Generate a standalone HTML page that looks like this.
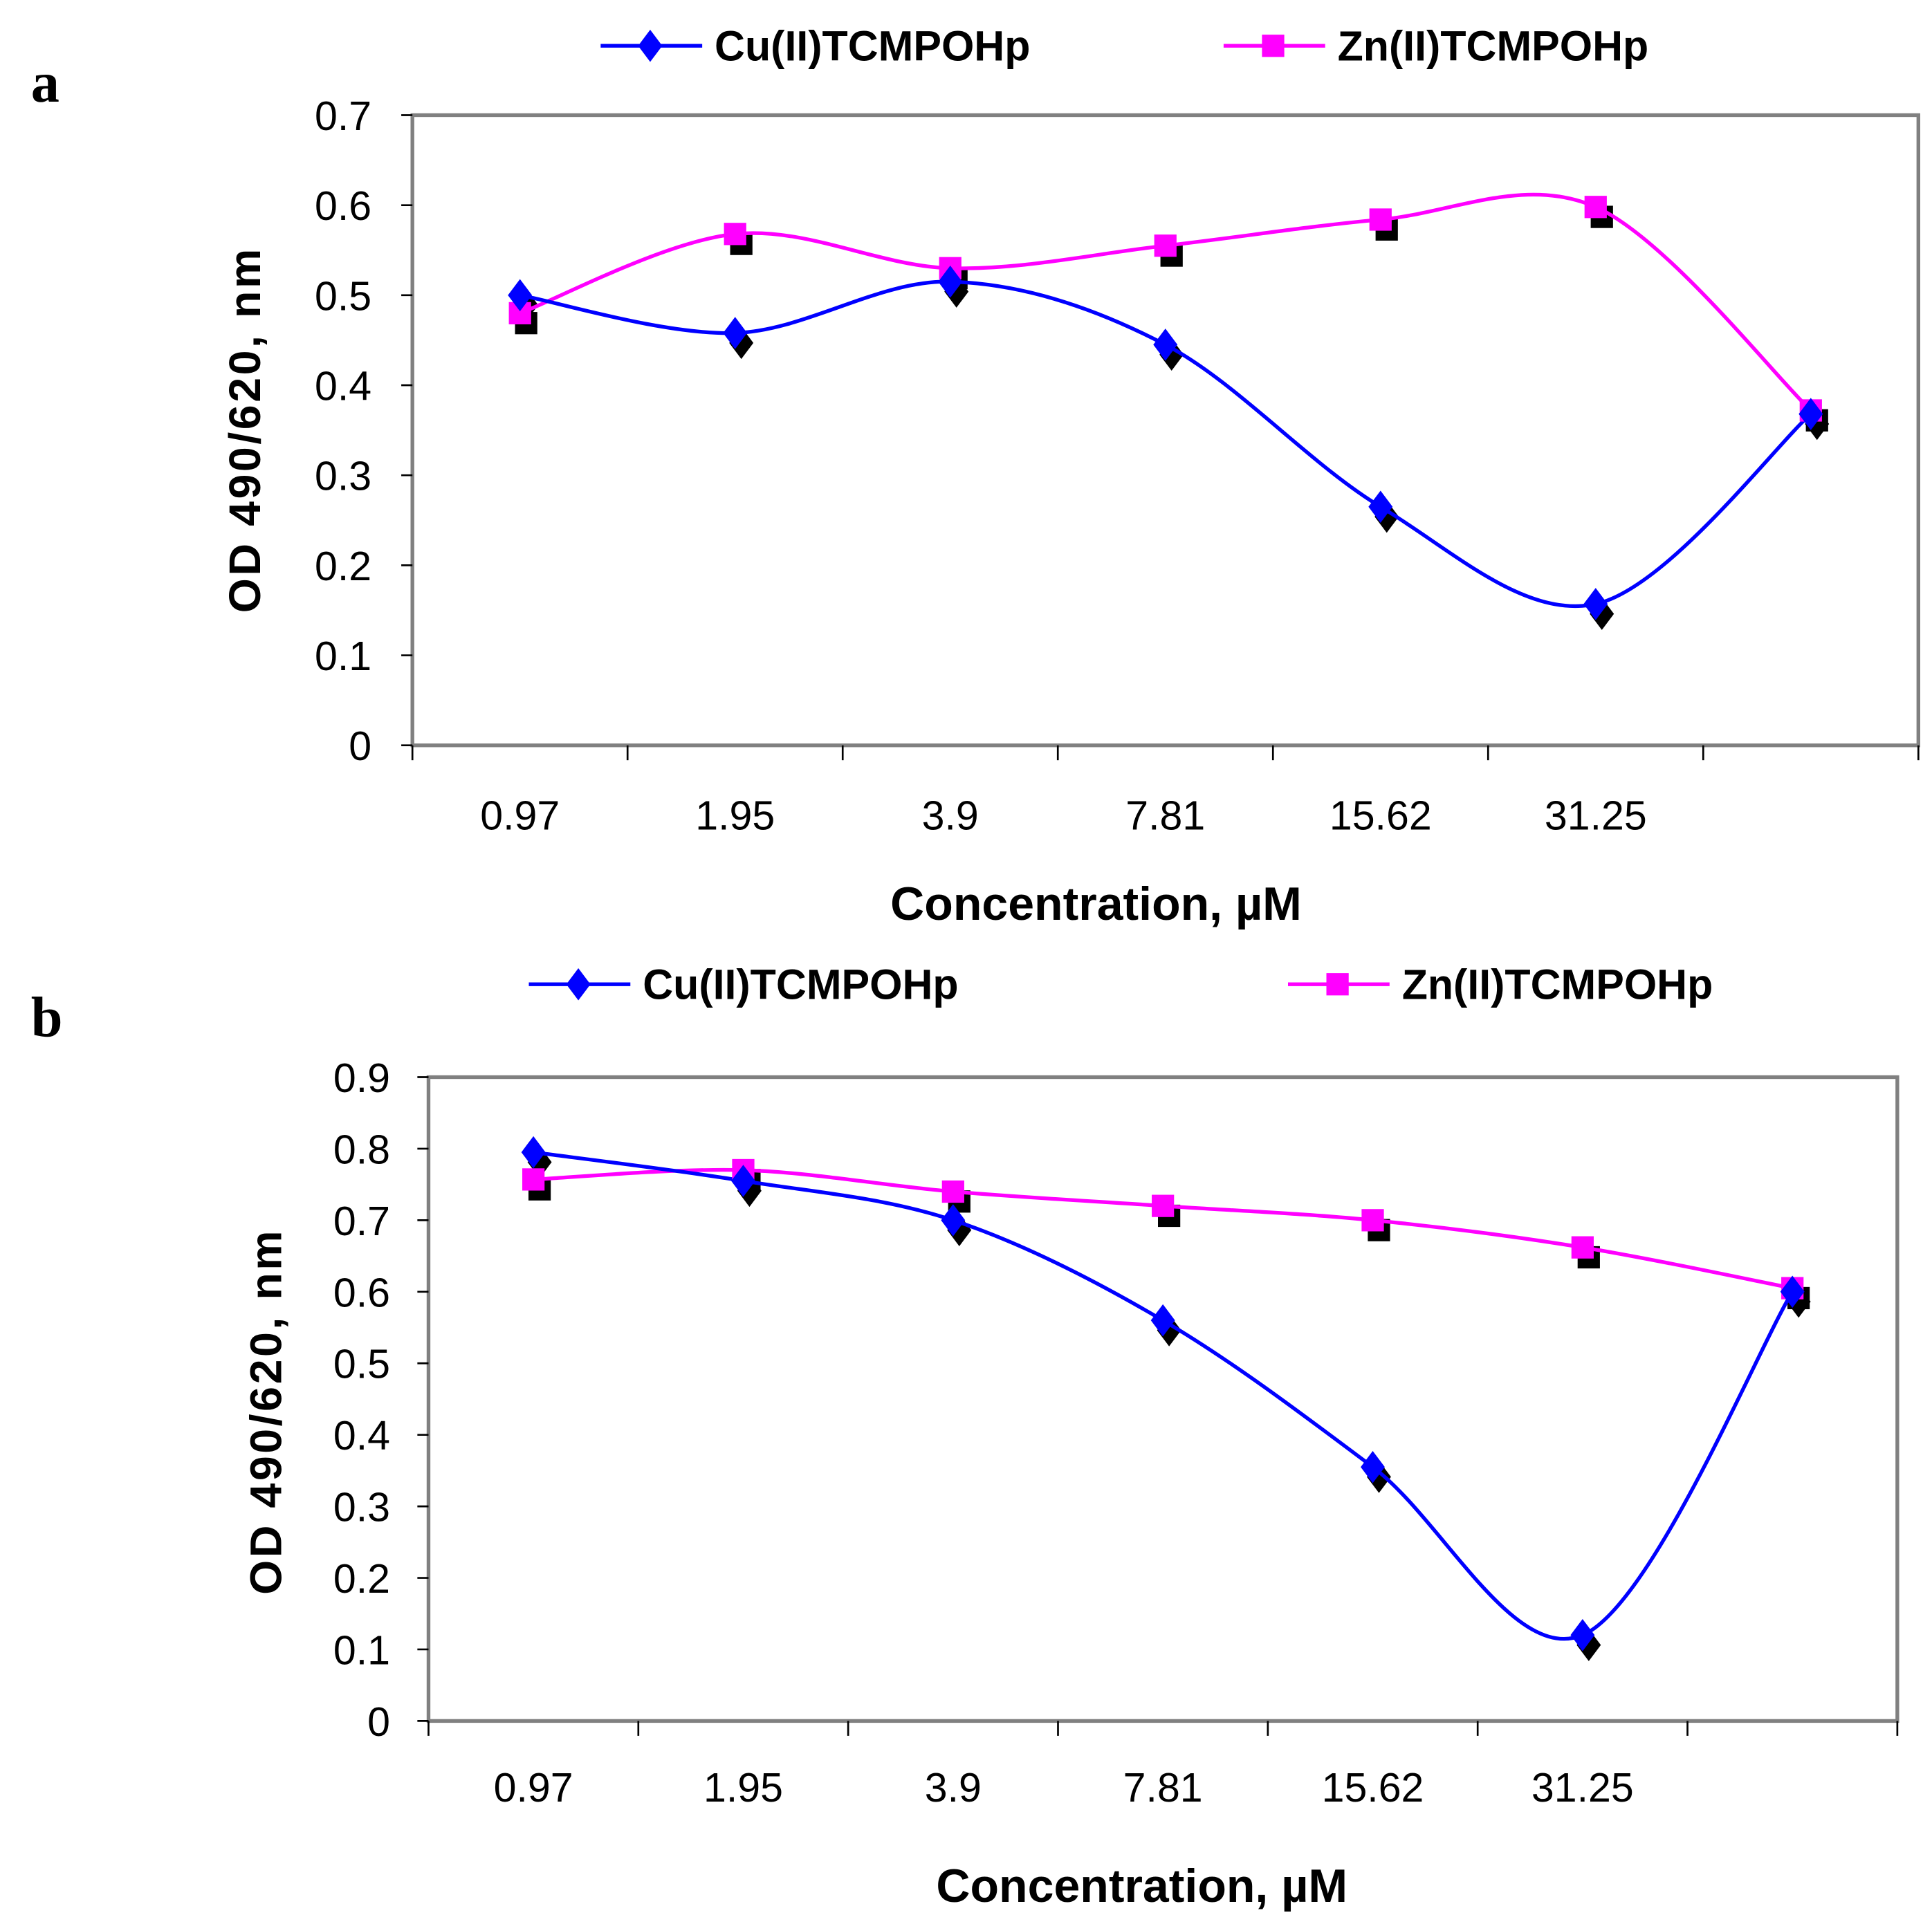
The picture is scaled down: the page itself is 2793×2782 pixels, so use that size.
<!DOCTYPE html>
<html><head><meta charset="utf-8"><style>
html,body{margin:0;padding:0;background:#fff;}
svg{display:block;}
text{font-family:"Liberation Sans Narrow","Liberation Sans",Arial,sans-serif;}
</style></head><body>
<svg id="fig" width="2793" height="2782" viewBox="0 0 1560 1554" preserveAspectRatio="none" xmlns="http://www.w3.org/2000/svg"></svg>
<script>
const categories = ["0.97","1.95","3.9","7.81","15.62","31.25",""];
const cuA = [0.50,0.458,0.515,0.445,0.265,0.157,0.368];
const znA = [0.48,0.568,0.53,0.555,0.584,0.598,0.372];
const ticksA = [0,0.1,0.2,0.3,0.4,0.5,0.6,0.7];
const cuB = [0.795,0.755,0.70,0.56,0.355,0.12,0.60];
const znB = [0.757,0.77,0.74,0.72,0.70,0.662,0.605];
const ticksB = [0,0.1,0.2,0.3,0.4,0.5,0.6,0.7,0.8,0.9];

const NS="http://www.w3.org/2000/svg";
const svg=document.getElementById('fig');
function mk(tag,attrs,parent){const e=document.createElementNS(NS,tag);for(const k in attrs)e.setAttribute(k,attrs[k]);(parent||svg).appendChild(e);return e;}
function spline(pts){let d=`M${pts[0][0]},${pts[0][1]}`;for(let i=0;i<pts.length-1;i++){const p0=pts[i-1]||pts[i],p1=pts[i],p2=pts[i+1],p3=pts[i+2]||pts[i+1];const t=0.33;const c1=[p1[0]+(p2[0]-p0[0])*t/2,p1[1]+(p2[1]-p0[1])*t/2];const c2=[p2[0]-(p3[0]-p1[0])*t/2,p2[1]-(p3[1]-p1[1])*t/2];d+=` C${c1[0]},${c1[1]} ${c2[0]},${c2[1]} ${p2[0]},${p2[1]}`;}return d;}
function diamond(g,x,y,r,fill){return mk('polygon',{points:`${x},${y-r} ${x+r*0.75},${y} ${x},${y+r} ${x-r*0.75},${y}`,fill:fill},g);}
function square(g,x,y,r,fill){return mk('rect',{x:x-r,y:y-r,width:2*r,height:2*r,fill:fill},g);}

function chart(o){
  const g=mk('g',{});
  
  
  const {L,R,T,B,max}=o;
  const n=categories.length, cw=(R-L)/n;
  const X=i=>L+cw*(i+0.5);
  const Y=v=>B-(v/max)*(B-T);
  const box=mk('rect',{x:L,y:T,width:R-L,height:B-T,fill:'none',stroke:'#808080','stroke-width':3},g);
  
  
  o.ticks.forEach(v=>{
    mk('line',{x1:L-9,x2:L,y1:Y(v),y2:Y(v),stroke:'#000','stroke-width':1.5},g);
    const t=mk('text',{x:300+o.dx,y:Y(v)+12,'text-anchor':'end','font-size':33},g);
    t.textContent=String(v);
    
    
  });
  for(let i=0;i<=n;i++) mk('line',{x1:L+cw*i,x2:L+cw*i,y1:B,y2:B+12,stroke:'#000','stroke-width':1.5},g);
  categories.forEach((c,i)=>{
    const t=mk('text',{x:X(i),y:o.catY,'text-anchor':'middle','font-size':33},g);
    t.textContent=c;
    
    
  });
  const xt=mk('text',{x:o.xtX,y:o.xtY,'text-anchor':'middle','font-size':38,'font-weight':'bold'},g);
  xt.textContent='Concentration, µM';
  
  
  const yt=mk('text',{x:0,y:0,'text-anchor':'middle','font-size':36,'font-weight':'bold','letter-spacing':2,transform:`translate(${o.ytX},${o.ytY}) rotate(-90)`,style:'font-family:"Liberation Sans",sans-serif'},g);
  yt.textContent='OD 490/620, nm';
  
  
  const series=[[o.zn,'#ff00ff',square,'zn-series'],[o.cu,'#0000ff',diamond,'cu-series']];
  series.forEach(([vals,col,m])=>vals.forEach((v,i)=>{m(g,X(i)+5,Y(v)+8,m===square?9:13,'#000');}));
  series.forEach(([vals,col,m,nm])=>{
    const p=mk('path',{d:spline(vals.map((v,i)=>[X(i),Y(v)])),fill:'none',stroke:col,'stroke-width':3},g);
    
    
  });
  series.forEach(([vals,col,m,nm])=>vals.forEach((v,i)=>{
    const e=m(g,X(i),Y(v),m===square?9:13,col);
    
    
  }));
  const lg=mk('g',{},g);
  
  
  const ents=[[o.leg[0],'#0000ff',diamond,'Cu(II)TCMPOHp'],[o.leg[1],'#ff00ff',square,'Zn(II)TCMPOHp']];
  ents.forEach(([lx,col,m,label])=>{
    const e=mk('g',{},lg);
    
    
    mk('line',{x1:lx,x2:lx+82,y1:o.legY,y2:o.legY,stroke:col,'stroke-width':3},e);
    m(e,lx+40,o.legY,m===square?9:13,col);
    const t=mk('text',{x:lx+92,y:o.legY+12,'font-size':34,'font-weight':'bold'},e);
    t.textContent=label;
  });
  const pl=mk('text',{x:25,y:o.panelY,'font-size':46,'font-weight':'bold',style:'font-family:"Liberation Serif",serif'},g);
  pl.textContent=o.panel;
  
  
}
chart({name:'chart-a',L:333,R:1549,T:93,B:602,max:0.7,ticks:ticksA,cu:cuA,zn:znA,catY:670,xtX:885,xtY:743,ytX:210,ytY:347,leg:[485,988],legY:37,panel:'a',panelY:82,dx:0});
chart({name:'chart-b',L:346,R:1532,T:870,B:1390,max:0.9,ticks:ticksB,cu:cuB,zn:znB,catY:1455,xtX:922,xtY:1536,ytX:227,ytY:1140,leg:[427,1040],legY:795,panel:'b',panelY:837,dx:15});
</script>
</body></html>
